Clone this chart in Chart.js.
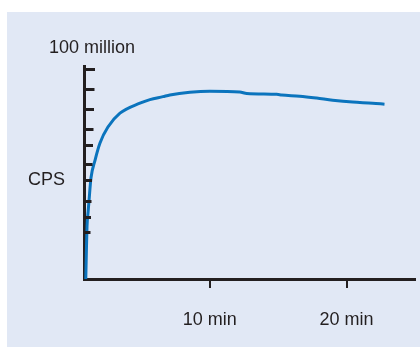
<!DOCTYPE html>
<html>
<head>
<meta charset="utf-8">
<script src="https://cdn.jsdelivr.net/npm/chart.js@4/dist/chart.umd.min.js"></script>
<style>
  html, body { margin: 0; padding: 0; background: #fff; }
  #panel { position: absolute; left: 7px; top: 12px; width: 413px; height: 335px; background: #e1e8f5; }
  #wrap { position: absolute; left: 0; top: 0; width: 420px; height: 347px; }
</style>
</head>
<body>
<div id="panel"></div>
<div id="wrap"><canvas id="chart" width="420" height="347"></canvas></div>
<script>
// time in minutes, counts per second in millions
const minutes = [0.93, 0.97, 1.02, 1.1, 1.17, 1.31, 1.61, 1.97, 2.55, 3.43, 4.89, 5.62, 6.57, 7.08, 8.54, 10.0, 12.19, 12.7, 14.89, 15.26, 16.57, 17.81, 18.98, 20.44, 21.9, 22.77]
const cps = [0, 12, 25, 32, 37.6, 48.1, 56.7, 64.8, 72.4, 79.0, 83.8, 85.5, 86.9, 87.7, 89.0, 89.5, 89.1, 88.4, 88.0, 87.7, 87.1, 86.2, 85.2, 84.3, 83.8, 83.3]

const xTicks = [10, 20]
const xTickLabels = ['10 min', '20 min']
const yTicks = [100, 90.5, 81, 71.4, 63.8, 54.8, 47.1, 37.1, 29.5, 22.4]
const yTopLabel = '100 million'
const yTitle = 'CPS'

const ink = '#231f20'
const font = '"Liberation Sans", Arial, sans-serif'

const annotate = {
  id: 'annotate',
  afterDraw (chart) {
    const { ctx, chartArea, scales: { y } } = chart
    ctx.save()
    // inward tick marks on the y axis
    ctx.strokeStyle = ink
    ctx.lineWidth = 3
    yTicks.forEach((v, i) => {
      const py = Math.round(y.getPixelForValue(v)) + 0.5
      const len = 11 - i * 0.5
      ctx.beginPath()
      ctx.moveTo(chartArea.left - 1, py)
      ctx.lineTo(chartArea.left + len, py)
      ctx.stroke()
    })
    ctx.fillStyle = ink
    ctx.font = '18px ' + font
    ctx.textBaseline = 'alphabetic'
    ctx.textAlign = 'center'
    ctx.fillText(yTopLabel, chartArea.left + 8, y.getPixelForValue(100) - 16)
    ctx.textAlign = 'right'
    ctx.fillText(yTitle, chartArea.left - 19, y.getPixelForValue(45))
    ctx.restore()
  }
}

new Chart(document.getElementById('chart'), {
  type: 'line',
  data: {
    datasets: [{
      data: minutes.map((m, i) => ({ x: m, y: cps[i] })),
      borderColor: '#0b74bd',
      borderWidth: 3,
      pointRadius: 0,
      cubicInterpolationMode: 'monotone',
      fill: false
    }]
  },
  options: {
    responsive: false,
    animation: false,
    layout: { padding: { left: 0, right: 5, top: 66, bottom: 0 } },
    plugins: { legend: { display: false }, tooltip: { enabled: false } },
    scales: {
      x: {
        type: 'linear',
        min: 0.8,
        max: 25,
        afterBuildTicks: (s) => { s.ticks = xTicks.map(v => ({ value: v })) },
        afterFit: (s) => { s.height = 68 },
        border: { display: true, color: ink, width: 3 },
        grid: { drawOnChartArea: false, color: ink, lineWidth: 2, tickLength: 9 },
        ticks: {
          color: ink,
          padding: 21,
          maxRotation: 0,
          font: { family: font, size: 18 },
          callback: (v) => xTickLabels[xTicks.indexOf(v)]
        }
      },
      y: {
        min: 0,
        max: 101.5,
        afterFit: (s) => { s.width = 84 },
        border: { display: true, color: ink, width: 3 },
        grid: { display: false },
        ticks: { display: false }
      }
    }
  },
  plugins: [annotate]
})
</script>
</body>
</html>
